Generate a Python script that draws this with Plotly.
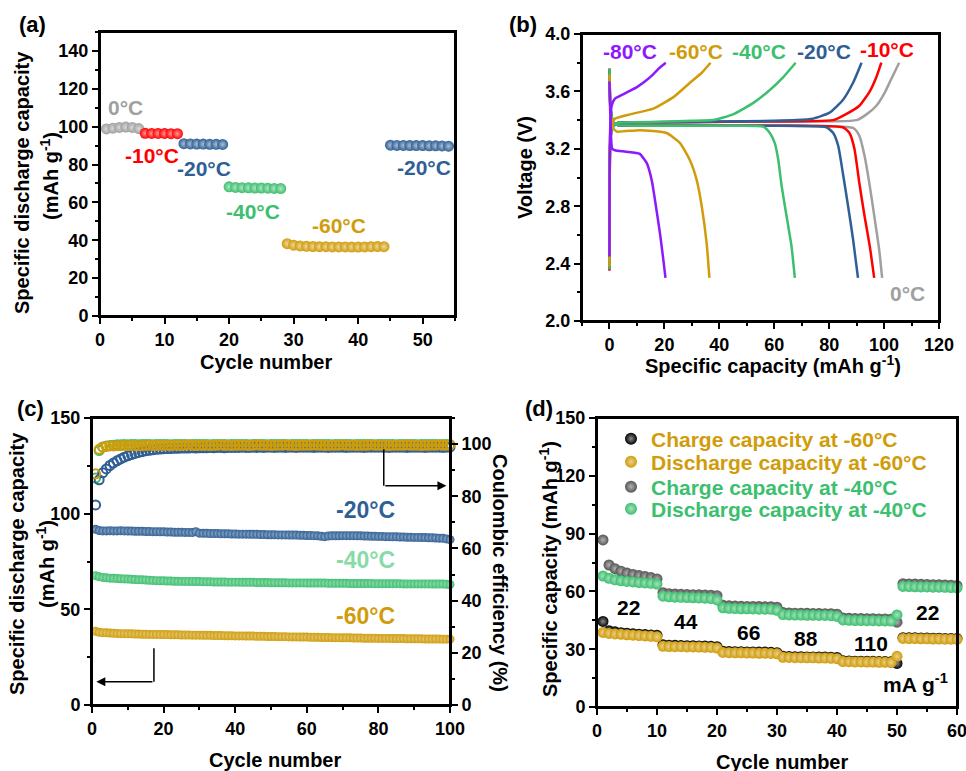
import plotly.graph_objects as go

W, H = 966, 771
FONT = "Liberation Sans, Arial, sans-serif"

GRAY = "#A0A0A0"; RED = "#FF0000"; BLUE = "#2F5F95"; GREEN = "#3CBF6E"
LGREEN = "#86DBA6"; GOLD = "#D09C0A"; PURPLE = "#8C1AFF"; DGRAY = "#555555"; BLACK = "#000000"

# ---------------- (a) rate-of-temperature data ----------------
a_cyc_0 = [1, 2, 3, 4, 5, 6]
a_cap_0 = [98.8, 99.2, 99.6, 99.8, 99.6, 99.0]
a_cyc_m10 = [7, 8, 9, 10, 11, 12]
a_cap_m10 = [96.5, 96.4, 96.4, 96.4, 96.3, 96.3]
a_cyc_m20 = [13, 14, 15, 16, 17, 18, 19]
a_cap_m20 = [91.0, 90.9, 90.8, 90.8, 90.7, 90.7, 90.6]
a_cyc_m40 = [20, 21, 22, 23, 24, 25, 26, 27, 28]
a_cap_m40 = [68.2, 67.9, 67.8, 67.7, 67.6, 67.6, 67.5, 67.4, 67.3]
a_cyc_m60 = list(range(29, 45))
a_cap_m60 = [38.2, 37.4, 37.0, 36.8, 36.7, 36.6, 36.6, 36.5, 36.5, 36.5, 36.4, 36.4, 36.5, 36.6, 36.7, 36.6]
a_cyc_m20b = list(range(45, 55))
a_cap_m20b = [90.2, 90.1, 90.1, 90.0, 90.0, 90.0, 89.9, 89.9, 89.8, 89.7]

# ---------------- (b) voltage profiles ----------------
b_labels = ["0°C", "-10°C", "-20°C", "-40°C", "-60°C", "-80°C"]
b_chg_x = {
    "-80°C": [0, 0.2, 0.8, 2, 4, 7, 10, 13, 16, 18, 20.5],
    "-60°C": [0, 0.3, 1, 2, 7.5, 16, 23.3, 29.3, 33.6, 36.8],
    "-40°C": [0, 0.3, 1, 3, 10, 20, 30, 37.8, 45, 52.4, 58.4, 63.3, 67.8],
    "-20°C": [0, 0.3, 1, 3, 20, 40, 60, 68, 74, 80, 85, 88.7, 91.8],
    "-10°C": [0, 0.3, 1, 3, 20, 50, 81.5, 86, 91, 94.8, 97.2, 99],
    "0°C": [0, 0.3, 1, 3, 20, 50, 90, 93.6, 97.2, 100.2, 102.7, 105.5],
}
b_chg_v = {
    "-80°C": [2.45, 3.30, 3.50, 3.55, 3.57, 3.60, 3.63, 3.67, 3.72, 3.76, 3.80],
    "-60°C": [2.38, 3.30, 3.38, 3.41, 3.44, 3.48, 3.56, 3.66, 3.73, 3.80],
    "-40°C": [2.36, 3.25, 3.35, 3.38, 3.385, 3.39, 3.395, 3.40, 3.44, 3.52, 3.61, 3.70, 3.80],
    "-20°C": [2.36, 3.25, 3.35, 3.38, 3.385, 3.39, 3.395, 3.40, 3.41, 3.45, 3.54, 3.66, 3.80],
    "-10°C": [2.35, 3.25, 3.35, 3.38, 3.385, 3.39, 3.40, 3.44, 3.50, 3.60, 3.70, 3.80],
    "0°C": [2.37, 3.25, 3.35, 3.38, 3.385, 3.39, 3.40, 3.44, 3.50, 3.59, 3.69, 3.80],
}
b_dis_x = {
    "-80°C": [0, 0.3, 1, 2, 6, 11, 13.6, 15.4, 16.6, 18.4, 19.6, 20.4],
    "-60°C": [0, 0.4, 1.5, 2.7, 11, 20.8, 25.7, 29.3, 31.8, 33.6, 35.4, 36.4],
    "-40°C": [0, 0.4, 1.5, 3, 20, 40, 56, 58.4, 60.2, 61.5, 62.7, 64.5, 66.3, 67.5],
    "-20°C": [0, 0.4, 1.5, 3, 20, 50, 79, 81.5, 83.3, 85, 86.9, 88.7, 90.5],
    "-10°C": [0, 0.4, 1.5, 3, 20, 50, 85, 87.4, 89.2, 91, 92.9, 94.8, 96.4],
    "0°C": [0, 0.4, 1.5, 3, 20, 50, 88.7, 91, 92.9, 94.8, 96.6, 98.2, 99.3],
}
b_dis_v = {
    "-80°C": [3.67, 3.45, 3.20, 3.19, 3.18, 3.165, 3.10, 2.98, 2.84, 2.61, 2.43, 2.30],
    "-60°C": [3.72, 3.45, 3.34, 3.32, 3.33, 3.31, 3.24, 3.12, 2.98, 2.80, 2.54, 2.30],
    "-40°C": [3.76, 3.48, 3.38, 3.365, 3.36, 3.36, 3.355, 3.31, 3.24, 3.12, 2.94, 2.73, 2.52, 2.30],
    "-20°C": [3.75, 3.48, 3.38, 3.365, 3.36, 3.36, 3.35, 3.31, 3.22, 3.03, 2.80, 2.57, 2.30],
    "-10°C": [3.76, 3.48, 3.38, 3.365, 3.36, 3.36, 3.35, 3.31, 3.20, 2.96, 2.73, 2.52, 2.30],
    "0°C": [3.74, 3.48, 3.38, 3.365, 3.36, 3.36, 3.345, 3.29, 3.15, 2.94, 2.71, 2.50, 2.30],
}

# ---------------- (c) long cycling ----------------
c_cyc = list(range(1, 101))
c_cap_m20 = [
    91.8, 91.2, 91.0, 91.0, 91.1, 91.0, 91.0, 91.1, 91.0, 90.9,
    90.9, 90.8, 90.8, 90.8, 90.7, 90.7, 90.6, 90.6, 90.5, 90.5,
    90.4, 90.4, 90.3, 90.3, 90.3, 90.2, 90.2, 90.1, 90.6, 89.8,
    89.7, 89.7, 89.6, 89.6, 89.6, 89.5, 89.5, 89.5, 89.4, 89.4,
    89.3, 89.3, 89.3, 89.2, 89.2, 89.2, 89.1, 89.1, 89.0, 89.0,
    89.0, 88.9, 88.9, 88.9, 88.8, 88.8, 88.8, 88.7, 88.7, 88.6,
    88.6, 88.5, 88.4, 88.2, 88.0, 88.3, 88.4, 88.4, 88.4, 88.5,
    88.5, 88.5, 88.5, 88.4, 88.4, 88.3, 88.3, 88.2, 88.2, 88.1,
    88.1, 88.0, 88.0, 87.9, 87.9, 87.8, 87.8, 87.7, 87.7, 87.6,
    87.6, 87.5, 87.5, 87.4, 87.4, 87.3, 87.2, 87.1, 86.8, 86.4]
c_cap_m40 = [
    67.6, 67.0, 66.7, 66.5, 66.3, 66.2, 66.1, 66.0, 65.9, 65.8,
    65.7, 65.6, 65.5, 65.4, 65.3, 65.2, 65.1, 65.0, 64.9, 64.9,
    64.8, 64.8, 64.7, 64.7, 64.6, 64.6, 64.6, 64.5, 64.5, 64.5,
    64.4, 64.4, 64.4, 64.3, 64.3, 64.3, 64.3, 64.2, 64.2, 64.2,
    64.2, 64.1, 64.1, 64.1, 64.1, 64.0, 64.0, 64.0, 64.0, 63.9,
    63.9, 63.9, 63.9, 63.9, 63.8, 63.8, 63.8, 63.8, 63.8, 63.7,
    63.7, 63.7, 63.7, 63.7, 63.7, 63.6, 63.6, 63.6, 63.6, 63.6,
    63.6, 63.5, 63.5, 63.5, 63.5, 63.5, 63.5, 63.5, 63.4, 63.4,
    63.4, 63.4, 63.4, 63.4, 63.4, 63.4, 63.3, 63.3, 63.3, 63.3,
    63.3, 63.3, 63.3, 63.3, 63.2, 63.2, 63.2, 63.2, 63.1, 63.0]
c_cap_m60 = [
    38.5, 38.0, 37.8, 37.7, 37.6, 37.5, 37.4, 37.3, 37.3, 37.2,
    37.2, 37.1, 37.1, 37.0, 37.0, 36.9, 36.9, 36.9, 36.8, 36.8,
    36.8, 36.7, 36.7, 36.7, 36.6, 36.6, 36.6, 36.5, 36.5, 36.5,
    36.4, 36.4, 36.4, 36.3, 36.3, 36.3, 36.2, 36.2, 36.2, 36.1,
    36.1, 36.1, 36.0, 36.0, 36.0, 35.9, 35.9, 35.9, 35.8, 35.8,
    35.8, 35.7, 35.7, 35.7, 35.6, 35.6, 35.6, 35.5, 35.5, 35.5,
    35.4, 35.4, 35.4, 35.3, 35.3, 35.3, 35.2, 35.2, 35.2, 35.1,
    35.1, 35.1, 35.0, 35.0, 35.0, 34.9, 34.9, 34.9, 34.9, 34.8,
    34.8, 34.8, 34.8, 34.7, 34.7, 34.7, 34.7, 34.6, 34.6, 34.6,
    34.6, 34.6, 34.5, 34.5, 34.5, 34.5, 34.5, 34.4, 34.4, 34.4]
c_ce_m20 = [
    76.7, 86.3, 89.0, 90.5, 91.8, 92.8, 93.6, 94.3, 95.0, 95.5,
    96.0, 96.4, 96.8, 97.1, 97.4, 97.6, 97.8, 98.0, 98.1, 98.2,
    98.3, 98.3, 98.4, 98.4, 98.5, 98.5, 98.5, 98.6, 98.5, 98.6,
    98.6, 98.6, 98.7, 98.6, 98.7, 98.7, 98.6, 98.7, 98.7, 98.7,
    98.7, 98.8, 98.7, 98.7, 98.8, 98.7, 98.8, 98.7, 98.8, 98.8,
    98.7, 98.8, 98.8, 98.7, 98.8, 98.8, 98.7, 98.8, 98.8, 98.8,
    98.8, 98.7, 98.8, 98.8, 98.8, 98.7, 98.8, 98.8, 98.8, 98.8,
    98.7, 98.8, 98.8, 98.8, 98.8, 98.7, 98.8, 98.8, 98.8, 98.8,
    98.8, 98.8, 98.7, 98.8, 98.8, 98.8, 98.8, 98.7, 98.8, 98.8,
    98.8, 98.8, 98.7, 98.8, 98.8, 98.8, 98.8, 98.7, 98.8, 98.8]
c_ce_m40 = [
    87.0, 97.5, 98.9, 99.3, 99.5, 99.6, 99.7, 99.7, 99.8, 99.7,
    99.8, 99.8, 99.7, 99.8, 99.8, 99.8, 99.7, 99.8, 99.8, 99.8,
    99.8, 99.7, 99.8, 99.8, 99.8, 99.8, 99.7, 99.8, 99.8, 99.8,
    99.8, 99.8, 99.7, 99.8, 99.8, 99.8, 99.8, 99.7, 99.8, 99.8,
    99.8, 99.8, 99.8, 99.7, 99.8, 99.8, 99.8, 99.8, 99.7, 99.8,
    99.8, 99.8, 99.8, 99.8, 99.7, 99.8, 99.8, 99.8, 99.8, 99.8,
    99.7, 99.8, 99.8, 99.8, 99.8, 99.8, 99.7, 99.8, 99.8, 99.8,
    99.8, 99.8, 99.7, 99.8, 99.8, 99.8, 99.8, 99.8, 99.7, 99.8,
    99.8, 99.8, 99.8, 99.8, 99.7, 99.8, 99.8, 99.8, 99.8, 99.8,
    99.7, 99.8, 99.8, 99.8, 99.8, 99.8, 99.7, 99.8, 99.8, 99.8]
c_ce_m60 = [
    88.6, 98.0, 98.8, 99.1, 99.3, 99.3, 99.4, 99.4, 99.5, 99.4,
    99.5, 99.5, 99.4, 99.5, 99.5, 99.6, 99.5, 99.5, 99.6, 99.5,
    99.6, 99.5, 99.6, 99.6, 99.5, 99.6, 99.7, 99.6, 99.5, 99.6,
    99.6, 99.6, 99.5, 99.6, 99.6, 99.7, 99.6, 99.6, 99.5, 99.6,
    99.6, 99.6, 99.6, 99.5, 99.6, 99.7, 99.6, 99.6, 99.6, 99.5,
    99.6, 99.6, 99.6, 99.7, 99.6, 99.6, 99.5, 99.6, 99.6, 99.6,
    99.6, 99.7, 99.6, 99.6, 99.5, 99.6, 99.6, 99.6, 99.6, 99.7,
    99.6, 99.6, 99.6, 99.5, 99.6, 99.6, 99.6, 99.7, 99.6, 99.6,
    99.6, 99.6, 99.5, 99.6, 99.6, 99.6, 99.6, 99.7, 99.6, 99.6,
    99.6, 99.5, 99.6, 99.6, 99.6, 99.6, 99.7, 99.6, 99.6, 99.6]

# ---------------- (d) rate performance ----------------
d_cyc = list(range(1, 61))
d_chg_m60 = [
    44.4, 39.6, 39.0, 38.6, 38.3, 38.0, 37.8, 37.6, 37.4, 37.2,
    32.3, 32.1, 32.0, 31.9, 31.8, 31.8, 31.7, 31.6, 31.5, 31.3,
    28.9, 28.8, 28.7, 28.7, 28.6, 28.6, 28.5, 28.5, 28.4, 28.2,
    26.3, 26.2, 26.1, 26.1, 26.0, 26.0, 25.9, 25.9, 25.8, 25.7,
    24.0, 23.9, 23.8, 23.8, 23.7, 23.7, 23.6, 23.6, 23.5, 22.6,
    36.0, 35.9, 35.9, 35.8, 35.8, 35.7, 35.7, 35.6, 35.6, 35.5]
d_dis_m60 = [
    38.7, 38.2, 37.9, 37.7, 37.5, 37.3, 37.1, 36.9, 36.7, 36.4,
    31.5, 31.4, 31.3, 31.3, 31.2, 31.2, 31.1, 31.0, 30.9, 30.6,
    28.3, 28.2, 28.1, 28.1, 28.0, 28.0, 27.9, 27.9, 27.8, 27.6,
    25.8, 25.7, 25.6, 25.6, 25.5, 25.5, 25.4, 25.4, 25.3, 25.1,
    23.6, 23.5, 23.4, 23.4, 23.3, 23.3, 23.2, 23.2, 23.1, 26.3,
    35.6, 35.5, 35.5, 35.4, 35.4, 35.3, 35.3, 35.2, 35.2, 35.1]
d_chg_m40 = [
    86.7, 73.7, 71.8, 70.5, 69.5, 68.8, 68.2, 67.7, 67.2, 66.5,
    59.3, 58.8, 58.6, 58.5, 58.4, 58.3, 58.2, 58.1, 58.0, 57.8,
    52.8, 52.5, 52.4, 52.3, 52.2, 52.2, 52.1, 52.0, 52.0, 51.8,
    49.0, 48.8, 48.7, 48.6, 48.6, 48.5, 48.5, 48.4, 48.4, 48.2,
    46.2, 46.0, 45.9, 45.9, 45.8, 45.8, 45.7, 45.7, 45.6, 44.0,
    64.0, 63.9, 63.8, 63.7, 63.6, 63.5, 63.4, 63.3, 63.2, 63.0]
d_dis_m40 = [
    68.0, 66.8, 66.0, 65.5, 65.2, 64.9, 64.6, 64.4, 64.2, 63.8,
    57.5, 57.2, 57.0, 56.9, 56.8, 56.7, 56.6, 56.5, 56.3, 55.6,
    51.5, 51.2, 51.1, 51.0, 51.0, 50.9, 50.8, 50.8, 50.7, 50.2,
    48.0, 47.8, 47.7, 47.7, 47.6, 47.6, 47.5, 47.5, 47.4, 47.0,
    45.2, 45.0, 44.9, 44.9, 44.8, 44.8, 44.7, 44.7, 44.6, 47.8,
    62.6, 62.5, 62.4, 62.3, 62.3, 62.2, 62.2, 62.1, 62.0, 61.8]
d_rates = ["22", "44", "66", "88", "110", "22"]


def lighten(hexc, f):
    h = hexc.lstrip("#")
    r, g, b = int(h[0:2], 16), int(h[2:4], 16), int(h[4:6], 16)
    r = int(r + (255 - r) * f); g = int(g + (255 - g) * f); b = int(b + (255 - b) * f)
    return f"rgb({r},{g},{b})"


def sphere(color, size, f=0.6):
    return dict(color=color, size=size, line=dict(width=0),
                gradient=dict(type="radial", color=lighten(color, f)))


fig = go.Figure()

# (a)
for xs, ys, col in [(a_cyc_0, a_cap_0, GRAY), (a_cyc_m10, a_cap_m10, RED), (a_cyc_m20, a_cap_m20, BLUE),
                    (a_cyc_m40, a_cap_m40, GREEN), (a_cyc_m60, a_cap_m60, GOLD), (a_cyc_m20b, a_cap_m20b, BLUE)]:
    fig.add_trace(go.Scatter(x=xs, y=ys, mode="markers", marker=sphere(col, 11), xaxis="x", yaxis="y",
                             showlegend=False, cliponaxis=False))

# (b)
b_colors = {"0°C": GRAY, "-10°C": RED, "-20°C": BLUE, "-40°C": GREEN, "-60°C": GOLD, "-80°C": PURPLE}
for lab in b_labels:
    for xs, vs in [(b_chg_x[lab], b_chg_v[lab]), (b_dis_x[lab], b_dis_v[lab])]:
        fig.add_trace(go.Scatter(x=xs, y=vs, mode="lines", xaxis="x2", yaxis="y2", showlegend=False,
                                 line=dict(color=b_colors[lab], width=2.5, shape="spline", smoothing=0.5)))

# (c)
for ys, col in [(c_cap_m20, BLUE), (c_cap_m40, GREEN), (c_cap_m60, GOLD)]:
    fig.add_trace(go.Scatter(x=c_cyc, y=ys, mode="markers", marker=sphere(col, 9), xaxis="x3", yaxis="y3",
                             showlegend=False, cliponaxis=False))
for ys, col in [(c_ce_m40, GREEN), (c_ce_m20, BLUE), (c_ce_m60, GOLD)]:
    fig.add_trace(go.Scatter(x=c_cyc, y=ys, mode="markers", xaxis="x3", yaxis="y5", showlegend=False,
                             cliponaxis=False,
                             marker=dict(symbol="circle-open", size=9, color=col, line=dict(width=2, color=col))))

# (d)
d_series = [
    (d_chg_m60, BLACK, "Charge capacity at -60°C", "legend"),
    (d_dis_m60, GOLD, "Discharge capacity at -60°C", "legend2"),
    (d_chg_m40, DGRAY, "Charge capacity at -40°C", "legend3"),
    (d_dis_m40, GREEN, "Discharge capacity at -40°C", "legend4"),
]
for order in [2, 3, 0, 1]:
    ys, col, name, lg = d_series[order]
    fig.add_trace(go.Scatter(x=d_cyc, y=ys, mode="markers", name=name, legend=lg, xaxis="x4", yaxis="y4",
                             marker=sphere(col, 11, 0.55), cliponaxis=False))


def axis(domain, anchor, rng, dtick, mdtick, **kw):
    d = dict(domain=domain, anchor=anchor, range=rng, dtick=dtick, showline=True, linecolor="black",
             linewidth=2, mirror=True, ticks="outside", ticklen=6, tickwidth=2, tickcolor="black",
             showgrid=False, zeroline=False, automargin=False, ticklabeloverflow="allow",
             tickfont=dict(size=18, family=FONT, color="black", weight="bold"),
             minor=dict(dtick=mdtick, ticks="outside", ticklen=3, tickwidth=1.5, tickcolor="black", showgrid=False))
    d.update(kw)
    return d


def dx(a, b):
    return [a / W, b / W]


def dy(top, bot):
    return [1 - bot / H, 1 - top / H]


legend_common = dict(xanchor="left", yanchor="middle", bgcolor="rgba(0,0,0,0)", itemsizing="constant",
                     borderwidth=0)

fig.update_layout(
    width=W, height=H, margin=dict(l=0, r=0, t=0, b=0, pad=0, autoexpand=False),
    paper_bgcolor="white", plot_bgcolor="white",
    font=dict(family=FONT, size=18, color="black", weight="bold"),
    xaxis=axis(dx(100, 455), "y", [0, 55], 10, 5),
    yaxis=axis(dy(32, 316), "x", [0, 150], 20, 10),
    xaxis2=axis(dx(582, 939), "y2", [-10, 120], 20, 10, tick0=0),
    yaxis2=axis(dy(34, 321), "x2", [2, 4], 0.4, 0.2, tickformat=".1f"),
    xaxis3=axis(dx(92, 450), "y3", [0, 100], 20, 10),
    yaxis3=axis(dy(418, 705), "x3", [0, 150], 50, 25),
    yaxis5=axis(dy(418, 705), "x3", [0, 110], 20, 10, side="right", overlaying="y3", mirror=False),
    xaxis4=axis(dx(597, 957), "y4", [0, 60], 10, 5),
    yaxis4=axis(dy(418, 707), "x4", [0, 150], 30, 15),
    legend=dict(x=611 / W, y=1 - 439 / H, font=dict(size=21, color=GOLD, family=FONT, weight="bold"), **legend_common),
    legend2=dict(x=611 / W, y=1 - 462 / H, font=dict(size=21, color=GOLD, family=FONT, weight="bold"), **legend_common),
    legend3=dict(x=611 / W, y=1 - 487 / H, font=dict(size=21, color=GREEN, family=FONT, weight="bold"), **legend_common),
    legend4=dict(x=611 / W, y=1 - 509 / H, font=dict(size=21, color=GREEN, family=FONT, weight="bold"), **legend_common),
)

ann = []


def paper_text(text, x, y, size=20, angle=0, color="black"):
    ann.append(dict(text=text, x=x / W, y=1 - y / H, xref="paper", yref="paper", showarrow=False,
                    xanchor="center", yanchor="middle", textangle=angle,
                    font=dict(size=size, color=color, family=FONT, weight="bold")))


def data_text(text, x, y, xref, yref, size, color):
    ann.append(dict(text=text, x=x, y=y, xref=xref, yref=yref, showarrow=False, xanchor="center",
                    yanchor="middle", font=dict(size=size, color=color, family=FONT, weight="bold")))


# panel labels
paper_text("(a)", 32, 25, 22)
paper_text("(b)", 523, 25, 22)
paper_text("(c)", 30, 408, 22)
paper_text("(d)", 539, 408, 22)

# axis titles
paper_text("Specific discharge capacity", 22, 183, 20, -90)
paper_text("(mAh g<sup>-1</sup>)", 50, 176, 20, -90)
paper_text("Cycle number", 266, 362, 20)
paper_text("Voltage (V)", 525, 168, 20, -90)
paper_text("Specific capacity (mAh g<sup>-1</sup>)", 773, 364, 20)
paper_text("Specific discharge capacity", 17, 564, 20, -90)
paper_text("(mAh g<sup>-1</sup>)", 45, 564, 20, -90)
paper_text("Coulombic efficiency (%)", 500, 573, 20, 90)
paper_text("Cycle number", 275, 760, 20)
paper_text("Specific capacity (mAh g<sup>-1</sup>)", 548, 569, 20, -90)
paper_text("Cycle number", 782, 762, 20)

# (a) labels
for t, x, y, c in [("0°C", 4.0, 110, GRAY), ("-10°C", 8.1, 85, RED), ("-20°C", 16.1, 77.7, BLUE),
                   ("-40°C", 23.7, 55, GREEN), ("-60°C", 37, 48, GOLD), ("-20°C", 50.2, 78.2, BLUE)]:
    data_text(t, x, y, "x", "y", 21, c)

# (b) labels
for t, x, y, c in [("-80°C", 7.6, 3.88, PURPLE), ("-60°C", 31.6, 3.88, GOLD), ("-40°C", 54.5, 3.88, GREEN),
                   ("-20°C", 78.2, 3.88, BLUE), ("-10°C", 101.1, 3.895, RED), ("0°C", 108.4, 2.195, GRAY)]:
    data_text(t, x, y, "x2", "y2", 21, c)

# (c) labels
for t, y, c in [("-20°C", 101.9, BLUE), ("-40°C", 75.8, LGREEN), ("-60°C", 46.5, GOLD)]:
    data_text(t, 76.3, y, "x3", "y3", 23, c)

# (d) labels
for t, x, y in zip(d_rates, [5.3, 14.8, 25.2, 34.8, 45.7, 55.0], [51.4, 44.6, 38.9, 35.3, 33.2, 48.8]):
    data_text(t, x, y, "x4", "y4", 21, "black")
data_text("mA g<sup>-1</sup>", 53.0, 12.5, "x4", "y4", 21, "black")

# (c) arrows
ann.append(dict(x=99, y=84, ax=81.5, ay=84, xref="x3", yref="y5", axref="x3", ayref="y5", text="",
                showarrow=True, arrowhead=2, arrowsize=1.2, arrowwidth=1.5, arrowcolor="black"))
ann.append(dict(x=1.2, y=12.2, ax=17.3, ay=12.2, xref="x3", yref="y3", axref="x3", ayref="y3", text="",
                showarrow=True, arrowhead=2, arrowsize=1.2, arrowwidth=1.5, arrowcolor="black"))

shapes = [
    dict(type="line", x0=81.5, x1=81.5, y0=98, y1=84, xref="x3", yref="y5", line=dict(color="black", width=1.5)),
    dict(type="line", x0=17.3, x1=17.3, y0=29.6, y1=12.2, xref="x3", yref="y3", line=dict(color="black", width=1.5)),
]
# panel frames
for xa, ya in [("x", "y"), ("x2", "y2"), ("x3", "y3"), ("x4", "y4")]:
    shapes.append(dict(type="rect", xref=f"{xa} domain", yref=f"{ya} domain", x0=0, x1=1, y0=0, y1=1,
                       line=dict(color="black", width=2), fillcolor="rgba(0,0,0,0)", layer="above"))

fig.update_layout(annotations=ann, shapes=shapes)

fig.write_html("out.html")
